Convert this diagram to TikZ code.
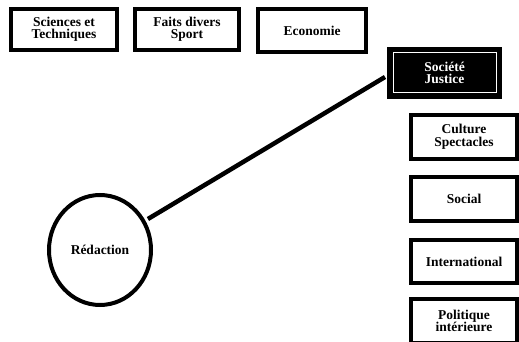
\documentclass[tikz,border=0pt]{standalone}
\usepackage{fontspec}
\setmainfont{Liberation Serif}
\usetikzlibrary{shapes.geometric}
\begin{document}
\begin{tikzpicture}[x=1pt,y=-1pt,
  box/.style={draw=black, line width=4pt, fill=white, inner sep=0pt, align=center,
    font=\fontsize{13.5}{12.5}\selectfont\bfseries},
  link/.style={line width=4.5pt},
]
\useasboundingbox[fill=white] (0,0) rectangle (519,342);
\node[box, minimum width=106pt, minimum height=41pt] (sci) at (64,29.5) {Sciences et\\Techniques};
\node[box, minimum width=104pt, minimum height=41pt] (fai) at (187,29.5) {Faits divers\\Sport};
\node[box, minimum width=108pt, minimum height=43pt] (eco) at (312,30.5) {Economie};
\node[box, fill=black, text=white, minimum width=111pt, minimum height=48pt] (soc) at (444.5,73) {Société\\Justice};
\draw[white, line width=1pt] ([shift={(6,6)}]soc.north west) rectangle ([shift={(-6,-6)}]soc.south east);
\node[box, minimum width=106pt, minimum height=44pt] (cul) at (464,137) {Culture\\Spectacles};
\node[box, minimum width=106pt, minimum height=44pt] (sol) at (464,199) {Social};
\node[box, minimum width=106pt, minimum height=43pt] (int) at (464,261.5) {International};
\node[box, minimum width=106pt, minimum height=44pt] (pol) at (464,321) {Politique\\intérieure};
\node[draw=black, ellipse, line width=4pt, minimum width=102pt, minimum height=110pt, inner sep=0pt,
  font=\fontsize{13.5}{12.5}\selectfont\bfseries] (red) at (100,250) {Rédaction};
\draw[link, shorten <=3pt] (red.33) -- ([shift={(-2,4)}]soc.west);
\end{tikzpicture}
\end{document}
